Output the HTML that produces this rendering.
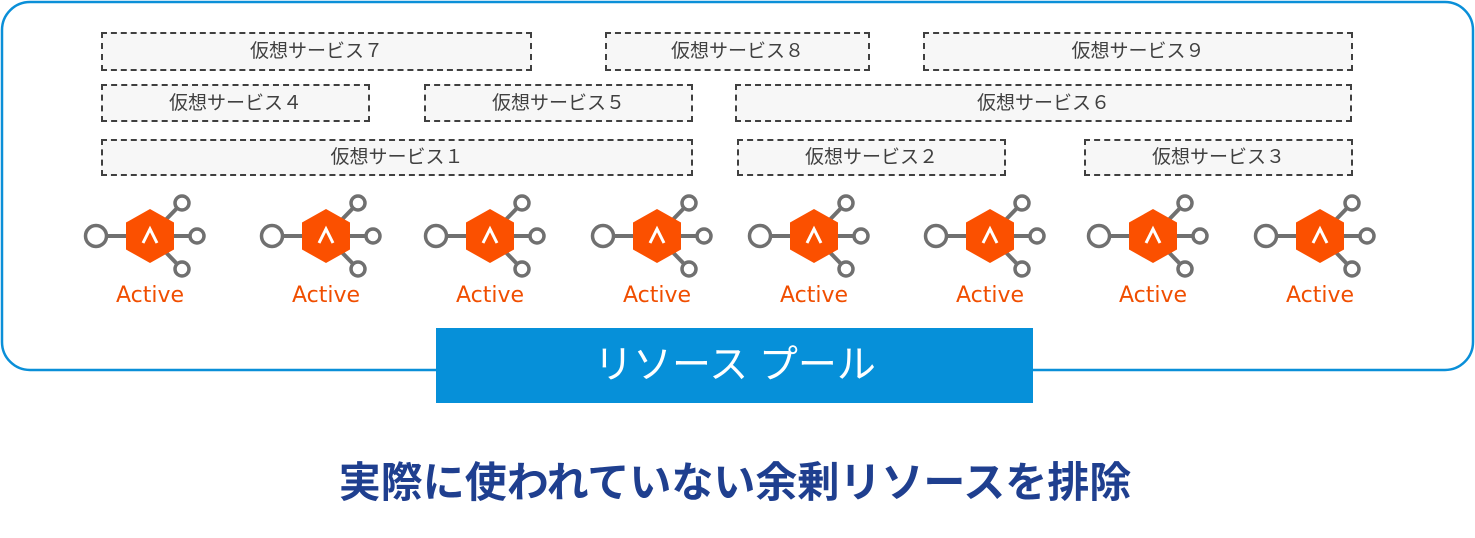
<!DOCTYPE html>
<html><head><meta charset="utf-8"><style>
body{margin:0;background:#fff;width:1475px;height:538px;overflow:hidden;position:relative;font-family:"Liberation Sans","Noto Sans CJK JP",sans-serif}
.b{position:absolute;box-sizing:border-box;border:2px dashed #404040;background:#f7f7f7;color:#404040;font-size:19px;text-align:center;display:flex;align-items:center;justify-content:center;padding-bottom:4px}
</style></head><body>
<svg width="1475" height="538" style="position:absolute;left:0;top:0">
<defs>
<g id="ic">
<line x1="-43" y1="0" x2="0" y2="0" stroke="#707070" stroke-width="4"/>
<line x1="0" y1="0" x2="32" y2="-33" stroke="#707070" stroke-width="4"/>
<line x1="0" y1="0" x2="32" y2="33" stroke="#707070" stroke-width="4"/>
<line x1="0" y1="0" x2="47" y2="0" stroke="#707070" stroke-width="4"/>
<circle cx="-54" cy="0" r="10.5" fill="#fff" stroke="#707070" stroke-width="3.5"/>
<circle cx="47" cy="0" r="7" fill="#fff" stroke="#707070" stroke-width="3.5"/>
<circle cx="32" cy="-33" r="7" fill="#fff" stroke="#707070" stroke-width="3.5"/>
<circle cx="32" cy="33" r="7" fill="#fff" stroke="#707070" stroke-width="3.5"/>
<polygon points="0,-27 24,-13.5 24,13.5 0,27 -24,13.5 -24,-13.5" fill="#fb5000"/>
<polyline points="-7,7 0,-7 7,7" fill="none" stroke="#fff" stroke-width="3"/>
</g>
</defs>
<rect x="2" y="2" width="1471" height="368" rx="28" fill="#fff" stroke="#0a8fd8" stroke-width="2.5"/>
<g font-size="22" fill="#f04e00" text-anchor="middle" font-family="DejaVu Sans, sans-serif">
<use href="#ic" x="150" y="236"/><text x="150" y="302">Active</text>
<use href="#ic" x="326" y="236"/><text x="326" y="302">Active</text>
<use href="#ic" x="490" y="236"/><text x="490" y="302">Active</text>
<use href="#ic" x="657" y="236"/><text x="657" y="302">Active</text>
<use href="#ic" x="814" y="236"/><text x="814" y="302">Active</text>
<use href="#ic" x="990" y="236"/><text x="990" y="302">Active</text>
<use href="#ic" x="1153" y="236"/><text x="1153" y="302">Active</text>
<use href="#ic" x="1320" y="236"/><text x="1320" y="302">Active</text>
</g>
<rect x="436" y="328" width="597" height="75" fill="#0690d9"/>
<text x="735" y="378" fill="#fff" font-size="39" text-anchor="middle" font-family="Liberation Sans, Noto Sans CJK JP, sans-serif">リソース プール</text>
<text x="735" y="497" fill="#1f3f8f" font-size="42" font-weight="bold" text-anchor="middle" font-family="Liberation Sans, Noto Sans CJK JP, sans-serif">実際に使われていない余剰リソースを排除</text>
</svg>
<div class="b" style="left:101px;top:32px;width:431px;height:39px">仮想サービス７</div>
<div class="b" style="left:605px;top:32px;width:265px;height:39px">仮想サービス８</div>
<div class="b" style="left:923px;top:32px;width:430px;height:39px">仮想サービス９</div>
<div class="b" style="left:101px;top:84px;width:269px;height:38px">仮想サービス４</div>
<div class="b" style="left:424px;top:84px;width:269px;height:38px">仮想サービス５</div>
<div class="b" style="left:735px;top:84px;width:617px;height:38px">仮想サービス６</div>
<div class="b" style="left:101px;top:139px;width:592px;height:37px">仮想サービス１</div>
<div class="b" style="left:737px;top:139px;width:269px;height:37px">仮想サービス２</div>
<div class="b" style="left:1084px;top:139px;width:269px;height:37px">仮想サービス３</div>
</body></html>
